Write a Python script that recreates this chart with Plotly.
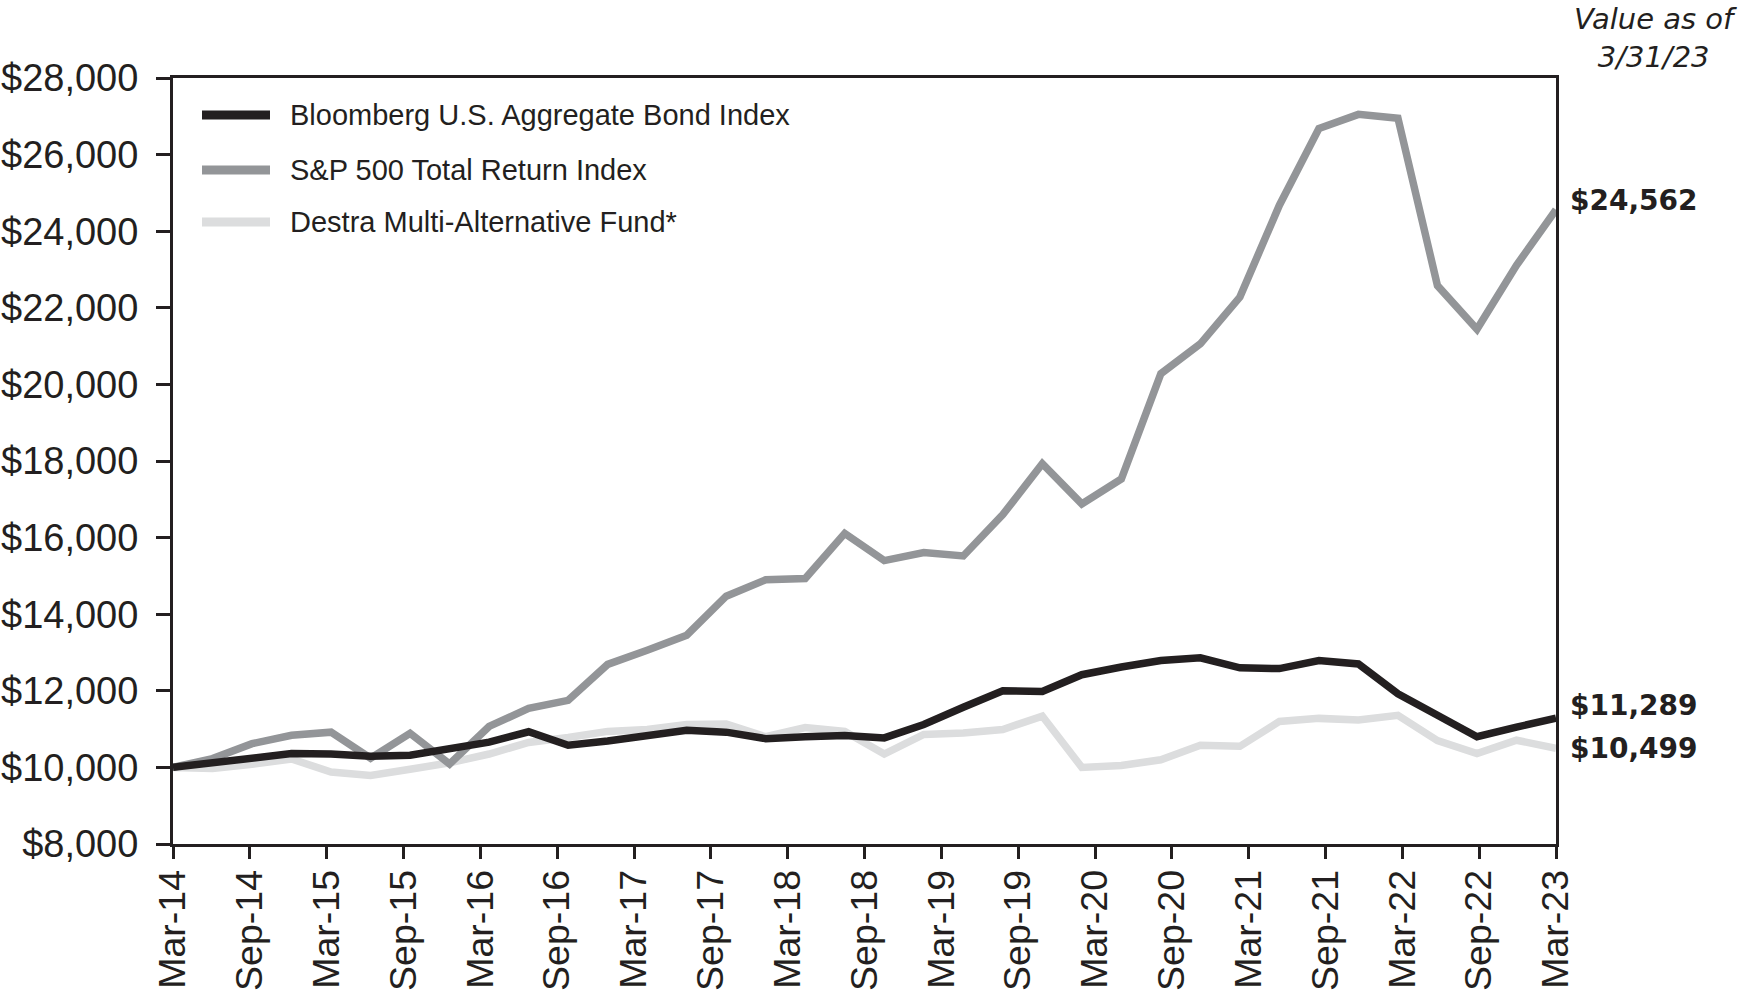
import plotly.graph_objects as go

# ---------------- data ----------------
series_names = [
    "Bloomberg U.S. Aggregate Bond Index",
    "S&P 500 Total Return Index",
    "Destra Multi-Alternative Fund*",
]

bond = [10000, 10130, 10250, 10360, 10350, 10290, 10320, 10510, 10660, 10930,
        10580, 10690, 10840, 10970, 10920, 10750, 10800, 10830, 10770, 11120,
        11570, 12000, 11980, 12420, 12620, 12790, 12860, 12600, 12580, 12790,
        12700, 11920, 11360, 10800, 11050, 11289]

sp500 = [10000, 10230, 10620, 10840, 10920, 10240, 10890, 10090, 11070, 11540,
         11750, 12690, 13060, 13450, 14470, 14900, 14930, 16110, 15400, 15610,
         15520, 16600, 17930, 16880, 17530, 20280, 21060, 22280, 24680, 26680,
         27050, 26950, 22580, 21440, 23110, 24562]

destra = [10000, 9970, 10080, 10220, 9880, 9790, 9950, 10120, 10350, 10650,
          10780, 10940, 10990, 11120, 11130, 10800, 11040, 10940, 10350, 10860,
          10900, 10990, 11340, 10000, 10050, 10200, 10580, 10550, 11200, 11280,
          11240, 11360, 10700, 10360, 10710, 10499]

period_index = list(range(len(bond)))

tick_labels = ["Mar-14", "Sep-14", "Mar-15", "Sep-15", "Mar-16", "Sep-16",
               "Mar-17", "Sep-17", "Mar-18", "Sep-18", "Mar-19", "Sep-19",
               "Mar-20", "Sep-20", "Mar-21", "Sep-21", "Mar-22", "Sep-22",
               "Mar-23"]

end_labels = ["$11,289", "$24,562", "$10,499"]

# ---------------- styles ----------------
colors = ["#231f20", "#939598", "#dcddde"]
INK = "#231f20"
W, H = 1746, 995
ML, MR, MT, MB = 173, 190, 78, 151
PW, PH = W - ML - MR, H - MT - MB

n_last = period_index[-1]
tickvals = [k * n_last / (len(tick_labels) - 1) for k in range(len(tick_labels))]

fig = go.Figure()
all_series = [bond, sp500, destra]
for idx in [2, 1, 0]:
    fig.add_trace(go.Scatter(
        x=period_index, y=all_series[idx], mode="lines",
        name=series_names[idx],
        line=dict(color=colors[idx], width=7.5),
        cliponaxis=False, showlegend=False, hoverinfo="skip",
    ))

# custom legend (lines + text)
legend_y_px = [115, 170, 222]
for i, name in enumerate(series_names):
    yp = (H - MB - legend_y_px[i]) / PH
    fig.add_shape(type="line", xref="paper", yref="paper",
                  x0=(202 - ML) / PW, x1=(270 - ML) / PW, y0=yp, y1=yp,
                  line=dict(color=colors[i], width=9))
    fig.add_annotation(xref="paper", yref="paper", x=(288 - ML) / PW, y=yp,
                       text=name, showarrow=False, xanchor="left",
                       yanchor="middle",
                       font=dict(family="Liberation Sans, Arial", size=29,
                                 color=INK))

# end value labels
end_values = [bond[-1], sp500[-1], destra[-1]]
end_shifts = [13, 9, 0]
for i in range(3):
    fig.add_annotation(xref="paper", yref="y", x=1, y=end_values[i],
                       text=f"<b>{end_labels[i]}</b>", showarrow=False,
                       xanchor="left", yanchor="middle", xshift=12,
                       yshift=end_shifts[i],
                       font=dict(family="DejaVu Sans", size=28, color=INK))

fig.add_annotation(xref="paper", yref="paper", x=(1655 - ML) / PW,
                   y=(H - MB - 38) / PH,
                   text="<i>Value as of</i><br><i>3/31/23</i>",
                   showarrow=False, xanchor="center", yanchor="middle",
                   align="center",
                   font=dict(family="DejaVu Sans", size=29, color=INK))

fig.update_xaxes(
    range=[0, n_last], tickmode="array", tickvals=tickvals,
    ticktext=tick_labels, tickangle=-90,
    tickfont=dict(family="Liberation Sans, Arial", size=37.5, color=INK),
    showline=True, linecolor=INK, linewidth=3, mirror=True,
    ticks="outside", ticklen=12, tickwidth=3, tickcolor=INK,
    showgrid=False, zeroline=False, ticklabelstandoff=-4, automargin=False,
)
fig.update_yaxes(
    range=[8000, 28000], tickmode="linear", tick0=8000, dtick=2000,
    tickprefix="$", tickformat=",d",
    tickfont=dict(family="Liberation Sans, Arial", size=38, color=INK),
    showline=True, linecolor=INK, linewidth=3, mirror=True,
    ticks="outside", ticklen=14, tickwidth=3, tickcolor=INK,
    showgrid=False, zeroline=False, ticklabelstandoff=10, automargin=False,
)
fig.update_layout(
    width=W, height=H, autosize=False,
    margin=dict(l=ML, r=MR, t=MT, b=MB, pad=0, autoexpand=False),
    plot_bgcolor="white", paper_bgcolor="white",
    showlegend=False,
)

fig.write_html("out.html", config={"displayModeBar": False},
               post_script="document.body.style.margin='0';document.body.style.overflow='hidden';")
